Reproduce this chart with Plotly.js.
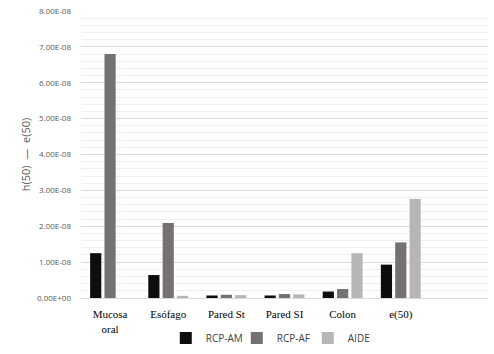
<!DOCTYPE html>
<html><head><meta charset="utf-8">
<script src="https://cdn.plot.ly/plotly-3.0.1.min.js"></script>
<style>html,body{margin:0;padding:0;background:#fff}#chart{width:494px;height:354px}</style>
</head><body><div id="chart"></div>
<script>
const categories = ["Mucosa<br>oral", "Esófago", "Pared St", "Pared SI", "Colon", "e(50)", " "];
const rcpAM = [1.25e-8, 0.64e-8, 0.07e-8, 0.07e-8, 0.18e-8, 0.93e-8, null];
const rcpAF = [6.8e-8, 2.09e-8, 0.09e-8, 0.11e-8, 0.25e-8, 1.55e-8, null];
const aide = [null, 0.06e-8, 0.08e-8, 0.10e-8, 1.25e-8, 2.76e-8, null];
const yTickVals = [0, 1e-8, 2e-8, 3e-8, 4e-8, 5e-8, 6e-8, 7e-8, 8e-8];
const yTickText = ["0.00E+00", "1.00E-08", "2.00E-08", "3.00E-08", "4.00E-08", "5.00E-08", "6.00E-08", "7.00E-08", "8.00E-08"];

const traces = [
  {type:"bar", name:"RCP-AM", x:categories, y:rcpAM, marker:{color:"#0d0d0d"}},
  {type:"bar", name:"RCP-AF", x:categories, y:rcpAF, marker:{color:"#767171"}},
  {type:"bar", name:"AIDE", x:categories, y:aide, marker:{color:"#b7b5b5"}}
];
const layout = {
  width:494, height:354,
  margin:{l:81, r:6, t:11, b:56, autoexpand:false},
  paper_bgcolor:"#fff", plot_bgcolor:"#fff",
  barmode:"group", bargap:0.26, bargroupgap:0.22,
  showlegend:true,
  legend:{orientation:"h", x:0.47, xanchor:"center", yref:"container", y:0.045, yanchor:"middle",
    font:{family:"Open Sans, sans-serif", size:10, color:"#404040"},
    itemwidth:30, entrywidth:26, entrywidthmode:"pixels", tracegroupgap:0},
  xaxis:{type:"category", showline:true, linecolor:"#d9d9d9", linewidth:1, ticklabelstandoff:6,
    tickfont:{family:"Liberation Serif, serif", size:11, color:"#000"}, ticks:"", fixedrange:true},
  yaxis:{range:[0, 8e-8], tickmode:"array", tickvals:yTickVals, ticktext:yTickText,
    tickfont:{family:"Open Sans, sans-serif", size:8, color:"#595959"}, ticklabelstandoff:9,
    gridcolor:"#dcdcdc", gridwidth:1, zeroline:false, ticklen:0, ticks:"",
    minor:{dtick:2e-9, tick0:0, showgrid:true, gridcolor:"#efefef", gridwidth:1},
    title:{text:"h(50)  —  e(50)", standoff:4, font:{family:"Open Sans, sans-serif", size:11, color:"#595959"}}}
};
Plotly.newPlot("chart", traces, layout, {displayModeBar:false, staticPlot:true});
</script></body></html>
